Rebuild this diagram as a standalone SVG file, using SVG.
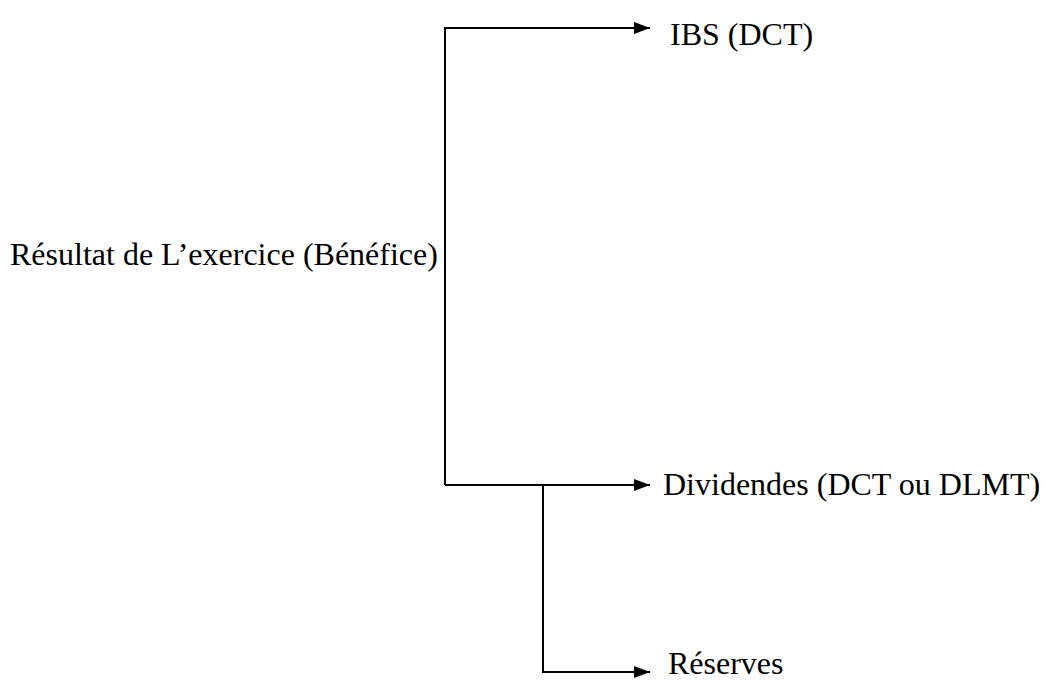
<svg xmlns="http://www.w3.org/2000/svg" width="1044" height="682" viewBox="0 0 1044 682">
  <style>
    .lbl { font-family: "Liberation Serif", "Times New Roman", serif; font-size: 32px; fill: #000; }
    .wire { fill: none; stroke: #000; stroke-width: 2; }
  </style>
  <defs>
    <marker id="arrow" markerWidth="16" markerHeight="12" refX="16" refY="6" orient="auto" markerUnits="userSpaceOnUse">
      <path d="M0,0 L16,6 L0,12 Z" fill="#000"/>
    </marker>
  </defs>
  <rect width="1044" height="682" fill="#fff"/>

  <g id="connectors">
    <!-- main trunk from the result to IBS and dividends -->
    <path class="wire" d="M445,485 L445,28 L650,28" marker-end="url(#arrow)"/>
    <path class="wire" d="M445,485 L650,485" marker-end="url(#arrow)"/>
    <!-- branch to reserves -->
    <path class="wire" d="M543,485 L543,672 L650,672" marker-end="url(#arrow)"/>
  </g>

  <g id="node-resultat">
    <text class="lbl" x="10" y="265">Résultat de L’exercice (Bénéfice)</text>
  </g>
  <g id="node-ibs">
    <text class="lbl" x="670" y="45">IBS (DCT)</text>
  </g>
  <g id="node-dividendes">
    <text class="lbl" x="663" y="495">Dividendes (DCT ou DLMT)</text>
  </g>
  <g id="node-reserves">
    <text class="lbl" x="668" y="674">Réserves</text>
  </g>
</svg>
